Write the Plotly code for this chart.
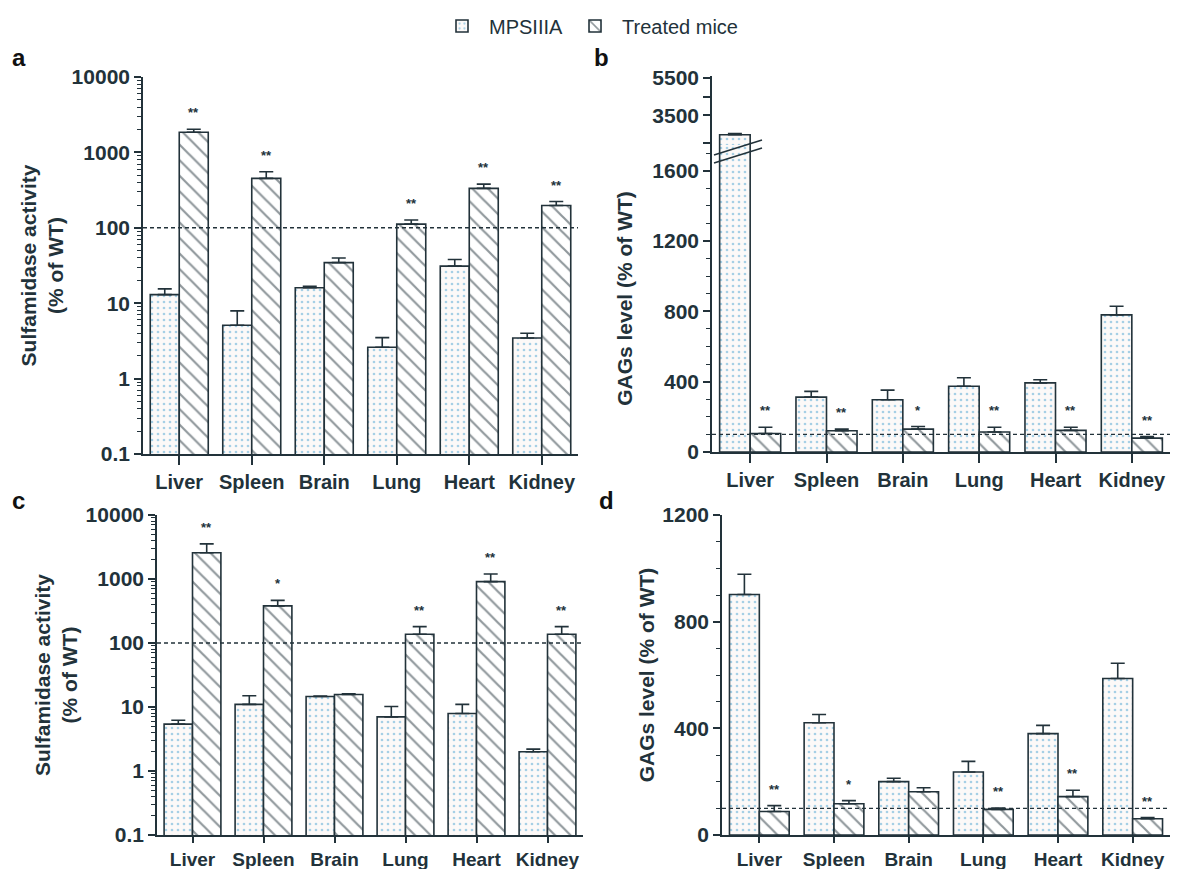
import numpy as np
import plotly.graph_objects as go

W, H = 1178, 877
PAD = 8  # default page margin around the plot div
FW, FH = W - 2 * PAD, H - 2 * PAD

tissues = ["Liver", "Spleen", "Brain", "Lung", "Heart", "Kidney"]
groups = ["MPSIIIA", "Treated mice"]

# a: sulfamidase activity (% of WT), mean and top of error bar
act_a_mps = [13, 5.1, 16, 2.6, 31, 3.45]
act_a_mps_top = [15.5, 7.9, 16.8, 3.5, 38, 4.0]
act_a_trt = [1850, 453, 34.5, 112, 333, 198]
act_a_trt_top = [2030, 554, 39.8, 127, 380, 223]
sig_a = ["**", "**", "", "**", "**", "**"]

# b: GAGs level (% of WT)
gag_b_mps = [2450, 312, 297, 374, 393, 780]
gag_b_mps_top = [2520, 345, 352, 422, 411, 829]
gag_b_trt = [105, 121, 130, 114, 123, 79]
gag_b_trt_top = [141, 130, 145, 141, 141, 88]
sig_b = ["**", "**", "*", "**", "**", "**"]

# c: sulfamidase activity (% of WT)
act_c_mps = [5.4, 11, 14.6, 7.0, 7.9, 2.0]
act_c_mps_top = [6.2, 15, 14.8, 10.2, 11, 2.2]
act_c_trt = [2570, 380, 15.7, 137, 910, 137]
act_c_trt_top = [3540, 464, 16.1, 180, 1195, 180]
sig_c = ["**", "*", "", "**", "**", "**"]

# d: GAGs level (% of WT)
gag_d_mps = [902, 421, 200, 236, 380, 587]
gag_d_mps_top = [978, 452, 213, 276, 411, 644]
gag_d_trt = [88, 117, 162, 96, 144, 61]
gag_d_trt_top = [110, 129, 177, 101, 168, 65]
sig_d = ["**", "*", "", "**", "**", "**"]

wt_level = 100

log_ticks = [0.1, 1, 10, 100, 1000, 10000]
log_ticktext = ["0.1", "1", "10", "100", "1000", "10000"]
log_minor = [m * 10.0 ** k for k in range(-1, 4) for m in range(2, 10)]
gag_ticks_b = [0, 400, 800, 1200, 1600]
gag_ticks_b_top = [2000, 3500, 4500, 5500]
gag_ticktext_b_top = ["", "3500", "", "5500"]
gag_ticks_d = [0, 400, 800, 1200]

INK = "#22323a"
DOT = "#4fa6d2"
FILL = "#fcf9f8"
FONT = "Liberation Sans"
BARGAP = 0.2


def px(x):
    return (x - PAD) / FW


def py(y):
    return 1 - (y - PAD) / FH


def err(vals, tops):
    return [t - v for v, t in zip(vals, tops)]


fig = go.Figure()


def add_bars(xa, ya, mps, mps_top, trt, trt_top, legend=False):
    fig.add_trace(go.Bar(
        x=tissues, y=mps, name=groups[0], xaxis=xa, yaxis=ya,
        showlegend=legend, legendgroup="mps",
        marker=dict(color=FILL, line=dict(color=INK, width=1.6),
                    pattern=dict(shape=".", fgcolor=DOT, bgcolor=FILL,
                                 size=6, solidity=0.16)),
        error_y=dict(type="data", symmetric=False, array=err(mps, mps_top),
                     arrayminus=[0] * len(mps), color=INK, thickness=1.6, width=7),
    ))
    fig.add_trace(go.Bar(
        x=tissues, y=trt, name=groups[1], xaxis=xa, yaxis=ya,
        showlegend=legend, legendgroup="trt",
        marker=dict(color="white", line=dict(color=INK, width=1.6),
                    pattern=dict(shape="\\", fgcolor=INK, bgcolor="white",
                                 size=11, solidity=0.2)),
        error_y=dict(type="data", symmetric=False, array=err(trt, trt_top),
                     arrayminus=[0] * len(trt), color=INK, thickness=1.6, width=7),
    ))


def add_stars(xa, ya, tops, sig, log=False):
    off = (1 - BARGAP) / 4
    for i, (t, s) in enumerate(zip(tops, sig)):
        if not s:
            continue
        fig.add_annotation(
            x=i + off, y=np.log10(t) if log else t, xref=xa, yref=ya,
            text=s, showarrow=False, yanchor="bottom", yshift=7,
            font=dict(family=FONT, size=13, color=INK, weight="bold"),
        )


add_bars("x", "y", act_a_mps, act_a_mps_top, act_a_trt, act_a_trt_top, legend=True)
add_bars("x2", "y2", gag_b_mps, gag_b_mps_top, gag_b_trt, gag_b_trt_top)
add_bars("x2", "y5", gag_b_mps, gag_b_mps_top, gag_b_trt, gag_b_trt_top)
add_bars("x3", "y3", act_c_mps, act_c_mps_top, act_c_trt, act_c_trt_top)
add_bars("x4", "y4", gag_d_mps, gag_d_mps_top, gag_d_trt, gag_d_trt_top)

add_stars("x", "y", act_a_trt_top, sig_a, log=True)
add_stars("x2", "y2", gag_b_trt_top, sig_b)
add_stars("x3", "y3", act_c_trt_top, sig_c, log=True)
add_stars("x4", "y4", gag_d_trt_top, sig_d)

xtickfont = dict(family=FONT, size=20, color=INK, weight="bold")
xtickfont_low = dict(family=FONT, size=19, color=INK, weight="bold")
ytickfont = dict(family=FONT, size=21, color=INK, weight="bold")
titlefont = dict(family=FONT, size=21, color=INK, weight="bold")

xcommon = dict(type="category", range=[-0.5, 5.5], showline=True, linecolor=INK,
               linewidth=1.6, ticks="outside", tickwidth=1.6, tickcolor=INK,
               showgrid=False, zeroline=False, fixedrange=True)
ycommon = dict(showline=True, linecolor=INK, linewidth=1.6, ticks="outside",
               ticklen=7, tickwidth=1.6, tickcolor=INK, tickfont=ytickfont,
               showgrid=False, zeroline=False, title_font=titlefont)
log_minor_style = dict(tickvals=log_minor, ticks="outside", ticklen=4,
                       tickwidth=1.2, tickcolor=INK)
lin_minor_style = dict(dtick=100, ticks="outside", ticklen=4, tickwidth=1.2,
                       tickcolor=INK)

fig.update_layout(
    width=FW, height=FH,
    margin=dict(l=0, r=0, t=0, b=0, autoexpand=False),
    paper_bgcolor="white", plot_bgcolor="rgba(0,0,0,0)",
    barmode="group", bargap=BARGAP, bargroupgap=0,
    font=dict(family=FONT, color=INK),
    legend=dict(orientation="h", x=px(589), xanchor="center", y=py(26),
                yanchor="middle", font=dict(family=FONT, size=20, color=INK),
                itemwidth=44, traceorder="normal"),
    xaxis=dict(domain=[px(143), px(578)], anchor="y", ticklen=9,
               tickfont=xtickfont, **xcommon),
    xaxis2=dict(domain=[px(712), px(1170)], anchor="y2", ticklen=9,
                tickfont=xtickfont, **xcommon),
    xaxis3=dict(domain=[px(157), px(583)], anchor="y3", ticklen=6,
                tickfont=xtickfont_low, **xcommon),
    xaxis4=dict(domain=[px(722), px(1170)], anchor="y4", ticklen=6,
                tickfont=xtickfont_low, **xcommon),
    yaxis=dict(domain=[py(454), py(77)], anchor="x", type="log", range=[-1, 4],
               tickvals=log_ticks, ticktext=log_ticktext, minor=log_minor_style,
               title=dict(text="Sulfamidase activity<br>(% of WT)", standoff=2),
               **ycommon),
    yaxis2=dict(domain=[py(452), py(145)], anchor="x2", range=[0, 1746],
                tickvals=gag_ticks_b, minor=lin_minor_style,
                title=dict(text="GAGs level (% of WT)", standoff=14),
                **ycommon),
    yaxis5=dict(domain=[py(145), py(76)], anchor="x2", range=[1900, 5600],
                tickvals=gag_ticks_b_top, ticktext=gag_ticktext_b_top,
                **ycommon),
    yaxis3=dict(domain=[py(835), py(515)], anchor="x3", type="log", range=[-1, 4],
                tickvals=log_ticks, ticktext=log_ticktext, minor=log_minor_style,
                title=dict(text="Sulfamidase activity<br>(% of WT)", standoff=2),
                **ycommon),
    yaxis4=dict(domain=[py(835), py(515)], anchor="x4", range=[0, 1200],
                tickvals=gag_ticks_d, minor=lin_minor_style,
                title=dict(text="GAGs level (% of WT)", standoff=2),
                **ycommon),
)

# WT reference level
for xa, ya in [("x", "y"), ("x2", "y2"), ("x3", "y3"), ("x4", "y4")]:
    fig.add_shape(type="line", xref=xa + " domain", yref=ya, x0=0, x1=1,
                  y0=wt_level, y1=wt_level,
                  line=dict(color=INK, width=1.4, dash="4px,3px"))

# axis break marks on panel b
for dy in (0, 8):
    fig.add_shape(type="line", xref="paper", yref="paper",
                  x0=px(714), x1=px(762), y0=py(163 - dy), y1=py(148 - dy),
                  line=dict(color=INK, width=1.6))

# panel letters
for lab, x, y in [("a", 10, 58), ("b", 592, 58), ("c", 10, 500), ("d", 597, 500)]:
    fig.add_annotation(text=lab, x=px(x), y=py(y), xref="paper", yref="paper",
                       showarrow=False, xanchor="left", yanchor="middle",
                       font=dict(family=FONT, size=24, color="#111", weight="bold"))

fig.write_html("out.html")
